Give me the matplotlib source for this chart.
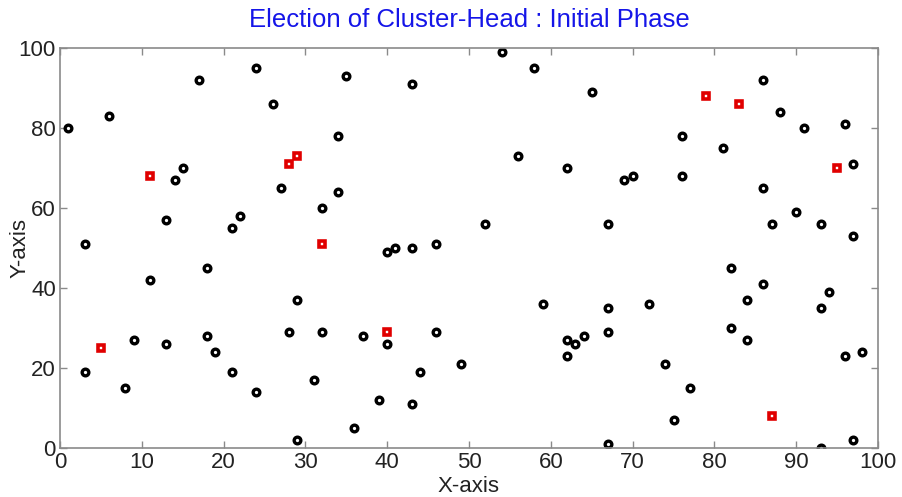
import matplotlib
matplotlib.use("Agg")
import matplotlib.pyplot as plt

# ── Node positions ─────────────────────────────────────────────────────────────

node_x = [1, 3, 6, 3, 8, 9, 13, 14, 15, 11, 13, 17, 18, 18, 19, 21, 22, 21,
          24, 24, 26, 27, 28, 29, 29, 31, 32, 32, 34, 34, 35, 36, 37, 39, 40,
          41, 43, 40, 43, 44, 43, 46, 46, 49, 52, 54, 56, 58, 59, 62, 62, 62,
          63, 64, 65, 67, 67, 67, 67, 69, 70, 72, 74, 75, 76, 76, 77, 81, 82,
          82, 84, 84, 86, 86, 86, 87, 88, 90, 91, 93, 93, 93, 94, 96, 96, 97,
          97, 97, 98]
node_y = [80, 51, 83, 19, 15, 27, 57, 67, 70, 42, 26, 92, 45, 28, 24, 55, 58,
          19, 95, 14, 86, 65, 29, 37, 2, 17, 60, 29, 78, 64, 93, 5, 28, 12, 49,
          50, 50, 26, 11, 19, 91, 51, 29, 21, 56, 99, 73, 95, 36, 70, 27, 23,
          26, 28, 89, 56, 35, 29, 1, 67, 68, 36, 21, 7, 78, 68, 15, 75, 45, 30,
          37, 27, 92, 65, 41, 56, 84, 59, 80, 56, 35, 0, 39, 81, 23, 71, 53, 2,
          24]

# cluster heads chosen in the initial round
head_x = [5, 11, 28, 29, 32, 40, 79, 83, 95, 87]
head_y = [25, 68, 71, 73, 51, 29, 88, 86, 70, 8]

TITLE = "Election of Cluster-Head : Initial Phase"

plt.rcParams["font.family"] = ["Liberation Sans", "DejaVu Sans"]

fig = plt.figure(figsize=(9.02, 4.97), dpi=100)
ax = fig.add_axes([0.0665, 0.0986, 0.9069, 0.8048])

ax.plot(node_x, node_y, "o", linestyle="none", markersize=4.8,
        markeredgewidth=2.4, markeredgecolor="black", markerfacecolor="white")
ax.plot(head_x, head_y, "s", linestyle="none", markersize=4.4,
        markeredgewidth=2.6, markeredgecolor="#e00000", markerfacecolor="white")

ax.set_xlim(0, 100)
ax.set_ylim(0, 100)
ax.set_xticks(range(0, 101, 10))
ax.set_yticks(range(0, 101, 20))

for s in ax.spines.values():
    s.set_color("#8a8a8a")
    s.set_linewidth(1.2)
ax.tick_params(direction="in", length=5, width=1.0, color="#8a8a8a",
               top=True, right=True, labelsize=16, labelcolor="#222222", pad=3)

ax.text(0.5, 1.07, TITLE, transform=ax.transAxes, ha="center", va="center",
        color="#1515e8", fontsize=18.5)
ax.set_xlabel("X-axis", fontsize=16, color="#222222")
ax.set_ylabel("Y-axis", fontsize=16, color="#222222")
ax.xaxis.set_label_coords(0.5, -0.0975)
ax.yaxis.set_label_coords(-0.049, 0.5)
ax.xaxis.label.set_va("center")
ax.yaxis.label.set_va("center")

fig.savefig("out.png", dpi=100)
